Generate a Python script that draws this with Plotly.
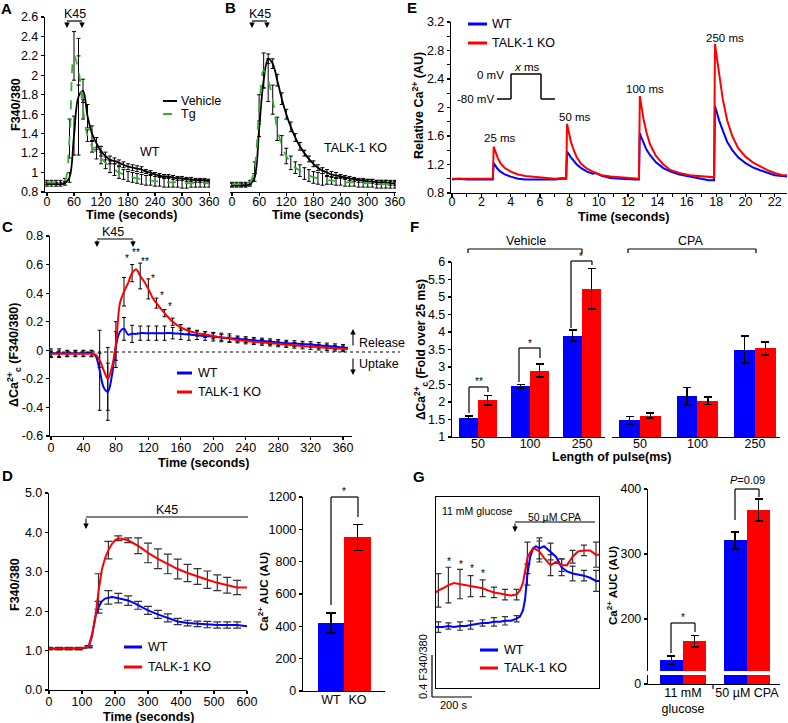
import plotly.graph_objects as go

W, H = 788, 723
FONT = "Liberation Sans, Arial, Helvetica, sans-serif"
BLUE, RED, GREEN = "#0000FF", "#FF0000", "#33B233"

# ---------------- data ----------------
# Panels A / B (F340/380 vs time, s)
TIME_AB = [0, 10, 20, 30, 40, 50, 60, 70, 80, 90, 100, 110, 120, 130, 140, 150, 160, 170, 180,
           190, 200, 210, 220, 230, 240, 250, 260, 270, 280, 290, 300, 310, 320, 330, 340, 350, 360]
A_VEH = [0.88, 0.88, 0.88, 0.88, 0.89, 0.95, 1.38, 1.78, 1.84, 1.58, 1.40, 1.30, 1.22, 1.17, 1.13, 1.12,
         1.10, 1.08, 1.06, 1.05, 1.04, 1.03, 1.01, 1.00, 0.98, 0.97, 0.96, 0.96, 0.95, 0.94, 0.94, 0.93,
         0.93, 0.92, 0.92, 0.92, 0.91]
A_VEH_ERR = [0.02, 0.02, 0.02, 0.02, 0.02, 0.05, 0.20, 0.60, 0.12, 0.12, 0.08, 0.06, 0.05, 0.04, 0.04,
             0.03, 0.03, 0.03, 0.03, 0.03, 0.03, 0.03, 0.02, 0.02, 0.02, 0.02, 0.02, 0.02, 0.02, 0.02,
             0.02, 0.02, 0.02, 0.02, 0.02, 0.02, 0.02]
A_TG = [0.90, 0.90, 0.90, 0.90, 0.92, 1.35, 2.20, 2.05, 1.65, 1.38, 1.27, 1.20, 1.15, 1.10, 1.06, 1.03,
        1.00, 0.98, 0.96, 0.95, 0.94, 0.93, 0.92, 0.92, 0.91, 0.91, 0.90, 0.90, 0.90, 0.90, 0.89, 0.89,
        0.89, 0.89, 0.89, 0.89, 0.89]
A_TG_ERR = [0.02, 0.02, 0.02, 0.02, 0.02, 0.20, 0.25, 0.15, 0.10, 0.06, 0.06, 0.06, 0.06, 0.06, 0.06,
            0.06, 0.06, 0.05, 0.05, 0.05, 0.05, 0.05, 0.05, 0.05, 0.05, 0.05, 0.05, 0.05, 0.05, 0.05,
            0.05, 0.05, 0.04, 0.04, 0.04, 0.04, 0.04]
B_VEH = [0.87, 0.87, 0.87, 0.87, 0.88, 0.95, 1.45, 1.95, 2.17, 2.12, 1.95, 1.76, 1.60, 1.47, 1.36, 1.27,
         1.20, 1.14, 1.09, 1.05, 1.02, 1.00, 0.98, 0.97, 0.96, 0.95, 0.94, 0.93, 0.92, 0.92, 0.91, 0.91,
         0.90, 0.90, 0.90, 0.89, 0.89]
B_VEH_ERR = [0.02, 0.02, 0.02, 0.02, 0.02, 0.04, 0.08, 0.08, 0.05, 0.05, 0.06, 0.06, 0.05, 0.05, 0.04,
             0.04, 0.03, 0.03, 0.03, 0.03, 0.03, 0.03, 0.03, 0.03, 0.02, 0.02, 0.02, 0.02, 0.02, 0.02,
             0.02, 0.02, 0.02, 0.02, 0.02, 0.02, 0.02]
B_TG = [0.88, 0.88, 0.88, 0.88, 0.90, 1.05, 1.65, 2.05, 1.95, 1.75, 1.45, 1.28, 1.17, 1.10, 1.05, 1.02,
        0.99, 0.97, 0.95, 0.94, 0.93, 0.92, 0.92, 0.91, 0.91, 0.90, 0.90, 0.90, 0.89, 0.89, 0.89, 0.89,
        0.88, 0.88, 0.88, 0.88, 0.88]
B_TG_ERR = [0.02, 0.02, 0.02, 0.02, 0.02, 0.06, 0.15, 0.18, 0.22, 0.15, 0.12, 0.10, 0.08, 0.07, 0.06,
            0.06, 0.06, 0.06, 0.06, 0.06, 0.06, 0.04, 0.04, 0.04, 0.04, 0.04, 0.04, 0.04, 0.04, 0.04,
            0.04, 0.04, 0.04, 0.04, 0.04, 0.04, 0.04]

# Panel C (delta Ca2+c)
C_TIME = [0, 10, 20, 30, 40, 50, 55, 60, 65, 70, 75, 80, 85, 90, 95, 100, 105, 110, 115, 120, 125, 130,
          140, 150, 160, 170, 180, 190, 200, 210, 220, 230, 240, 250, 260, 270, 280, 290, 300, 310, 320,
          330, 340, 350, 360, 366]
C_WT = [-0.02, -0.02, -0.02, -0.02, -0.02, -0.02,
        -0.04, -0.14, -0.26, -0.29, -0.18, 0.03, 0.13, 0.15, 0.11, 0.115, 0.115, 0.12, 0.12, 0.12, 0.12, 0.12,
        0.12, 0.12, 0.115, 0.11, 0.105, 0.10, 0.095, 0.09, 0.085, 0.08, 0.075, 0.07, 0.065, 0.06, 0.055,
        0.05, 0.047, 0.043, 0.04, 0.035, 0.03, 0.025, 0.02,
        0.018]
C_KO = [-0.025, -0.025, -0.025, -0.025, -0.025, -0.025,
        -0.03, -0.07, -0.14, -0.20, -0.12, 0.04, 0.33, 0.41, 0.47, 0.54, 0.565, 0.52, 0.48, 0.43, 0.37, 0.33,
        0.26, 0.20, 0.16, 0.135, 0.12, 0.11, 0.10, 0.09, 0.08, 0.072, 0.065, 0.06, 0.055, 0.05, 0.045,
        0.04, 0.035, 0.03, 0.026, 0.022, 0.018, 0.014, 0.01,
        0.008]
C_ERR_TIME = [0, 10, 20, 30, 40, 50, 60, 70, 80, 90, 100, 110, 120, 130, 140, 150, 160, 170, 180, 190,
              200, 210, 220, 230, 240, 250, 260, 270, 280, 290, 300, 310, 320, 330, 340, 350, 360]
C_WT_ERR = [0.03, 0.03, 0.02, 0.02, 0.02, 0.02, 0.28, 0.20, 0.10, 0.08, 0.06, 0.05, 0.05, 0.05, 0.05,
            0.04, 0.04, 0.04, 0.03, 0.03, 0.03, 0.03, 0.03, 0.02, 0.02, 0.02, 0.02, 0.02, 0.02, 0.02,
            0.02, 0.02, 0.02, 0.02, 0.02, 0.02, 0.02]
C_KO_ERR = [0.02, 0.02, 0.02, 0.02, 0.02, 0.02, 0.05, 0.22, 0.16, 0.10, 0.06, 0.09, 0.07, 0.035, 0.025,
            0.025, 0.02, 0.02, 0.02, 0.02, 0.02, 0.02, 0.02, 0.02, 0.02, 0.02, 0.02, 0.02, 0.02, 0.02,
            0.02, 0.02, 0.02, 0.02, 0.02, 0.02, 0.02]

# Panel D left
D_TIME = [0, 30, 60, 90, 100, 110, 120, 130, 140, 150, 160, 170, 180, 190, 200, 210, 220, 240, 260, 270,
          280, 300, 330, 360, 390, 420, 450, 480, 510, 540, 570, 600]
D_WT = [1.05, 1.05, 1.05, 1.05, 1.06, 1.07, 1.10, 1.35, 1.85, 2.10, 2.25, 2.32, 2.35, 2.36, 2.35, 2.33,
        2.32, 2.27, 2.20, 2.15, 2.10, 2.02, 1.92, 1.83, 1.74, 1.70, 1.68, 1.66, 1.65, 1.65, 1.65, 1.62]
D_KO = [1.05, 1.05, 1.05, 1.05, 1.06, 1.08, 1.10, 1.40, 1.80, 2.50, 3.05, 3.35, 3.55, 3.70, 3.80, 3.85,
        3.84, 3.80, 3.72, 3.66, 3.60, 3.48, 3.33, 3.20, 3.07, 2.97, 2.88, 2.80, 2.72, 2.66, 2.60, 2.60]
D_ERR_TIME = [0, 30, 60, 90, 120, 150, 180, 210, 240, 270, 300, 330, 360, 390, 420, 450, 480, 510, 540, 570]
D_WT_ERR = [0.02, 0.02, 0.02, 0.02, 0.02, 0.15, 0.17, 0.12, 0.12, 0.10, 0.10, 0.10, 0.10, 0.08, 0.07,
            0.07, 0.08, 0.08, 0.08, 0.08]
D_KO_ERR = [0.03, 0.03, 0.03, 0.03, 0.03, 0.45, 0.22, 0.06, 0.06, 0.20, 0.25, 0.25, 0.25, 0.25, 0.22,
            0.20, 0.22, 0.20, 0.20, 0.18]

# Panel D right
D_GROUPS = ["WT", "KO"]
D_AUC = [420, 950]
D_AUC_ERR = [62, 80]

# Panel E (relative Ca2+ vs time, s)
E_TIME = [0.0, 0.5, 1.0, 1.5, 2.0, 2.5, 2.78, 2.84, 2.95, 3.1, 3.3, 3.6, 4.0, 4.5, 5.0, 5.5, 6.0, 6.5,
          7.0, 7.5, 7.78, 7.84, 7.95, 8.1, 8.3, 8.5, 8.8, 9.2, 9.6, 9.8, 10.2, 10.8, 11.5, 12.0, 12.5,
          12.74, 12.80, 12.9, 13.05, 13.25, 13.5, 13.9, 14.4, 14.9, 15.5, 16.2, 16.9, 17.5, 17.86, 17.92,
          18.02, 18.2, 18.45, 18.75, 19.1, 19.5, 20.0, 20.5, 21.0, 21.5, 22.0, 22.5, 22.9]
E_WT = [0.99, 1.00, 0.99, 0.99, 1.00, 0.99, 0.99, 1.22, 1.18, 1.14, 1.10, 1.06, 1.03, 1.00, 0.99, 0.99,
        0.98, 0.99, 0.99, 1.00, 1.00, 1.38, 1.34, 1.30, 1.25, 1.20, 1.15, 1.10, 1.07, 1.08, 1.04, 1.01,
        1.00, 0.99, 0.99, 0.99, 1.64, 1.58, 1.50, 1.41, 1.33, 1.23, 1.15, 1.10, 1.06, 1.03, 1.00, 0.98,
        0.98, 2.02, 1.95, 1.82, 1.68, 1.52, 1.40, 1.30, 1.22, 1.16, 1.12, 1.08, 1.05, 1.04, 1.03]
E_KO = [1.00, 1.00, 0.99, 1.00, 0.99, 1.00, 1.00, 1.45, 1.38, 1.30, 1.22, 1.15, 1.10, 1.06, 1.04, 1.03,
        1.01, 1.01, 1.00, 1.01, 1.01, 1.77, 1.68, 1.52, 1.40, 1.30, 1.21, 1.14, 1.10, 1.08, 1.05, 1.03,
        1.02, 1.01, 1.00, 1.00, 2.16, 2.02, 1.84, 1.65, 1.48, 1.32, 1.20, 1.12, 1.08, 1.05, 1.04, 1.03,
        1.02, 2.89, 2.75, 2.45, 2.12, 1.82, 1.60, 1.43, 1.31, 1.23, 1.17, 1.12, 1.08, 1.05, 1.05]

# Panel F (fold over 25 ms)
F_PULSE = ["50", "100", "250"]
F_VEH_WT = [1.55, 2.45, 3.90]
F_VEH_WT_ERR = [0.05, 0.05, 0.16]
F_VEH_KO = [2.05, 2.90, 5.24]
F_VEH_KO_ERR = [0.14, 0.19, 0.58]
F_CPA_WT = [1.48, 2.16, 3.50]
F_CPA_WT_ERR = [0.11, 0.25, 0.38]
F_CPA_KO = [1.61, 2.04, 3.53]
F_CPA_KO_ERR = [0.07, 0.11, 0.18]

# Panel G left (trace, arbitrary F340/380 offset)
G_TIME = [0, 12, 35, 62, 90, 120, 150, 173, 200, 233, 260, 290, 320, 345, 375, 403, 420, 435, 445, 457,
          470, 485, 500, 517, 540, 573, 600, 628, 655, 683, 710, 740, 770, 800, 815]
G_WT = [1.00, 1.00, 1.00, 1.01, 1.00, 1.01, 1.01, 1.02, 1.03, 1.04, 1.04, 1.05, 1.05, 1.06, 1.06, 1.08,
        1.10, 1.16, 1.26, 1.50, 1.66, 1.75, 1.77, 1.75, 1.77, 1.72, 1.67, 1.57, 1.53, 1.51, 1.50, 1.49,
        1.47, 1.44, 1.44]
G_KO = [1.33, 1.35, 1.37, 1.40, 1.42, 1.41, 1.40, 1.39, 1.38, 1.37, 1.35, 1.33, 1.32, 1.31, 1.30, 1.31,
        1.35, 1.42, 1.52, 1.66, 1.71, 1.75, 1.74, 1.72, 1.66, 1.59, 1.62, 1.59, 1.59, 1.67, 1.72, 1.73,
        1.73, 1.69, 1.69]
G_ERR_TIME = [12, 62, 120, 173, 233, 290, 345, 403, 457, 517, 573, 628, 683, 740, 800]
G_WT_ERR = [0.05, 0.03, 0.04, 0.04, 0.03, 0.04, 0.04, 0.03, 0.10, 0.10, 0.08, 0.08, 0.07, 0.05, 0.10]
G_KO_ERR = [0.16, 0.17, 0.14, 0.10, 0.08, 0.05, 0.05, 0.05, 0.15, 0.10, 0.10, 0.06, 0.06, 0.05, 0.12]

# Panel G right (Ca2+ AUC)
G_COND = ["11 mM<br>glucose", "50 \u00b5M CPA"]
G_AUC_WT = [137, 321]
G_AUC_WT_ERR = [6, 13]
G_AUC_KO = [166, 368]
G_AUC_KO_ERR = [9, 17]


# ---------------- helpers ----------------
def px(x):
    return x / W


def py(y):
    return 1 - y / H


def xd(a, b):
    return [a / W, b / W]


def yd(top, bottom):
    return [1 - bottom / H, 1 - top / H]


def pick(times, vals, sel):
    m = dict(zip(times, vals))
    return [m[t] for t in sel]


shapes, annos = [], []


def L(x0, y0, x1, y1, w=1.2, color="black", dash=None):
    shapes.append(dict(type="line", xref="paper", yref="paper", x0=px(x0), y0=py(y0), x1=px(x1),
                       y1=py(y1), line=dict(color=color, width=w, dash=dash)))


def T(x, y, text, size=12.5, xanchor="center", yanchor="middle", angle=0):
    annos.append(dict(xref="paper", yref="paper", x=px(x), y=py(y), text=text, showarrow=False,
                      font=dict(family=FONT, size=size, color="black"), xanchor=xanchor,
                      yanchor=yanchor, textangle=angle))


def ARROW(x, y_tail, y_tip):
    annos.append(dict(xref="paper", yref="paper", x=px(x), y=py(y_tip), ax=0, ay=(y_tail - y_tip),
                      axref="pixel", ayref="pixel", text="", showarrow=True, arrowhead=2,
                      arrowsize=1, arrowwidth=1.1, arrowcolor="black"))


def base(**kw):
    d = dict(showline=True, linecolor="black", linewidth=1.2, ticks="outside", ticklen=3,
             tickwidth=1.2, tickcolor="black", showgrid=False, zeroline=False, automargin=False,
             tickfont=dict(family=FONT, size=12.5, color="black"), fixedrange=True)
    d.update(kw)
    return d


def hidden(**kw):
    d = dict(visible=False, showgrid=False, zeroline=False, fixedrange=True, automargin=False)
    d.update(kw)
    return d


def err(arr, color="black", thick=1.0, width=2):
    return dict(type="data", array=arr, color=color, thickness=thick, width=width, visible=True)


INVIS = dict(color="rgba(0,0,0,0)", size=1)
fig = go.Figure()

# ---------------- A ----------------
fig.add_trace(go.Scatter(x=TIME_AB, y=A_VEH, mode="lines", line=dict(color="black", width=1.8, shape="spline"),
                         error_y=err(A_VEH_ERR), xaxis="x", yaxis="y"))
fig.add_trace(go.Scatter(x=TIME_AB, y=A_TG, mode="lines",
                         line=dict(color=GREEN, width=1.8, dash="dash", shape="spline"),
                         error_y=err(A_TG_ERR), xaxis="x", yaxis="y"))
# ---------------- B ----------------
fig.add_trace(go.Scatter(x=TIME_AB, y=B_VEH, mode="lines", line=dict(color="black", width=1.8, shape="spline"),
                         error_y=err(B_VEH_ERR), xaxis="x2", yaxis="y2"))
fig.add_trace(go.Scatter(x=TIME_AB, y=B_TG, mode="lines",
                         line=dict(color=GREEN, width=1.8, dash="dash", shape="spline"),
                         error_y=err(B_TG_ERR), xaxis="x2", yaxis="y2"))
# ---------------- E ----------------
fig.add_trace(go.Scatter(x=E_TIME, y=E_WT, mode="lines", line=dict(color=BLUE, width=2), xaxis="x3", yaxis="y3"))
fig.add_trace(go.Scatter(x=E_TIME, y=E_KO, mode="lines", line=dict(color=RED, width=2), xaxis="x3", yaxis="y3"))
# ---------------- C ----------------
fig.add_trace(go.Scatter(x=C_ERR_TIME, y=pick(C_TIME, C_WT, C_ERR_TIME), mode="markers", marker=INVIS,
                         error_y=err(C_WT_ERR), xaxis="x4", yaxis="y4"))
fig.add_trace(go.Scatter(x=C_ERR_TIME, y=pick(C_TIME, C_KO, C_ERR_TIME), mode="markers", marker=INVIS,
                         error_y=err(C_KO_ERR), xaxis="x4", yaxis="y4"))
fig.add_trace(go.Scatter(x=C_TIME, y=C_WT, mode="lines", line=dict(color=BLUE, width=2, shape="spline"),
                         xaxis="x4", yaxis="y4"))
fig.add_trace(go.Scatter(x=C_TIME, y=C_KO, mode="lines", line=dict(color=RED, width=2, shape="spline"),
                         xaxis="x4", yaxis="y4"))
# ---------------- F ----------------
BW = 0.365
fig.add_trace(go.Bar(x=F_PULSE, y=F_VEH_WT, offset=-BW, width=BW, marker=dict(color=BLUE, line=dict(width=0)),
                     error_y=err(F_VEH_WT_ERR, thick=1.5, width=4), xaxis="x5", yaxis="y5"))
fig.add_trace(go.Bar(x=F_PULSE, y=F_VEH_KO, offset=0, width=BW, marker=dict(color=RED, line=dict(width=0)),
                     error_y=err(F_VEH_KO_ERR, thick=1.5, width=4), xaxis="x5", yaxis="y5"))
fig.add_trace(go.Bar(x=F_PULSE, y=F_CPA_WT, offset=-0.36, width=0.36, marker=dict(color=BLUE, line=dict(width=0)),
                     error_y=err(F_CPA_WT_ERR, thick=1.5, width=4), xaxis="x6", yaxis="y6"))
fig.add_trace(go.Bar(x=F_PULSE, y=F_CPA_KO, offset=0, width=0.36, marker=dict(color=RED, line=dict(width=0)),
                     error_y=err(F_CPA_KO_ERR, thick=1.5, width=4), xaxis="x6", yaxis="y6"))
# ---------------- D left ----------------
fig.add_trace(go.Scatter(x=D_ERR_TIME, y=pick(D_TIME, D_WT, D_ERR_TIME), mode="markers", marker=INVIS,
                         error_y=err(D_WT_ERR, color="#333333", thick=1.2, width=4), xaxis="x7", yaxis="y7"))
fig.add_trace(go.Scatter(x=D_ERR_TIME, y=pick(D_TIME, D_KO, D_ERR_TIME), mode="markers", marker=INVIS,
                         error_y=err(D_KO_ERR, color="#333333", thick=1.2, width=4), xaxis="x7", yaxis="y7"))
fig.add_trace(go.Scatter(x=D_TIME, y=D_WT, mode="lines", line=dict(color=BLUE, width=2), xaxis="x7", yaxis="y7"))
fig.add_trace(go.Scatter(x=D_TIME, y=D_KO, mode="lines", line=dict(color=RED, width=2), xaxis="x7", yaxis="y7"))
# ---------------- D right ----------------
fig.add_trace(go.Bar(x=[0, 1], y=D_AUC, width=1, marker=dict(color=[BLUE, RED], line=dict(width=0)),
                     error_y=err(D_AUC_ERR, thick=1.5, width=5), xaxis="x8", yaxis="y8"))
# ---------------- G left ----------------
fig.add_trace(go.Scatter(x=G_ERR_TIME, y=pick(G_TIME, G_WT, G_ERR_TIME), mode="markers", marker=INVIS,
                         error_y=err(G_WT_ERR, color="#333333", thick=1.2, width=3), xaxis="x9", yaxis="y9"))
fig.add_trace(go.Scatter(x=G_ERR_TIME, y=pick(G_TIME, G_KO, G_ERR_TIME), mode="markers", marker=INVIS,
                         error_y=err(G_KO_ERR, color="#333333", thick=1.2, width=3), xaxis="x9", yaxis="y9"))
fig.add_trace(go.Scatter(x=G_TIME, y=G_WT, mode="lines", line=dict(color=BLUE, width=2), xaxis="x9", yaxis="y9"))
fig.add_trace(go.Scatter(x=G_TIME, y=G_KO, mode="lines", line=dict(color=RED, width=2), xaxis="x9", yaxis="y9"))
# ---------------- G right (broken axis) ----------------
GW = 0.367
for ya, xa, e in (("y10", "x10", True), ("y11", "x11", False)):
    fig.add_trace(go.Bar(x=[0, 1], y=G_AUC_WT, offset=-GW, width=GW, marker=dict(color=BLUE, line=dict(width=0)),
                         error_y=err(G_AUC_WT_ERR, thick=1.5, width=4) if e else None, xaxis=xa, yaxis=ya))
    fig.add_trace(go.Bar(x=[0, 1], y=G_AUC_KO, offset=0, width=GW, marker=dict(color=RED, line=dict(width=0)),
                         error_y=err(G_AUC_KO_ERR, thick=1.5, width=4) if e else None, xaxis=xa, yaxis=ya))

# ---------------- axes ----------------
ab_ticks = [0.8, 1.0, 1.2, 1.4, 1.6, 1.8, 2.0, 2.2, 2.4, 2.6]
ab_text = ["0.8", "1", "1.2", "1.4", "1.6", "1.8", "2", "2.2", "2.4", "2.6"]
lay = dict(
    xaxis=base(domain=xd(45, 210), range=[-4.4, 362], tickvals=[0, 60, 120, 180, 240, 300, 360], anchor="y",
               ticklabelstandoff=-5),
    yaxis=base(domain=yd(17, 192), range=[0.8, 2.6], tickvals=ab_ticks, ticktext=ab_text, anchor="x"),
    xaxis2=base(domain=xd(230, 396), range=[-4.4, 362.5], tickvals=[0, 60, 120, 180, 240, 300, 360], anchor="y2",
                ticklabelstandoff=-5),
    yaxis2=hidden(domain=yd(17, 192), range=[0.8, 2.6], anchor="x2"),
    xaxis3=base(domain=xd(451, 787), range=[-0.07, 22.83], tickvals=list(range(0, 23, 2)), anchor="y3",
                ticklabelstandoff=-6,
                minor=dict(dtick=1, ticks="outside", ticklen=2.5, tickcolor="black", tickwidth=1)),
    yaxis3=base(domain=yd(22, 193), range=[0.8, 3.2], tickvals=[0.8, 1.2, 1.6, 2.0, 2.4, 2.8, 3.2],
                ticktext=["0.8", "1.2", "1.6", "2", "2.4", "2.8", "3.2"], anchor="x3",
                minor=dict(dtick=0.2, ticks="outside", ticklen=2.5, tickcolor="black", tickwidth=1)),
    xaxis4=base(domain=xd(50, 352), range=[-1.2, 371], tickvals=[0, 40, 80, 120, 160, 200, 240, 280, 320, 360],
                anchor="y4", ticklabelstandoff=-3),
    yaxis4=base(domain=yd(236, 436), range=[-0.6, 0.8], tickvals=[-0.6, -0.4, -0.2, 0, 0.2, 0.4, 0.6, 0.8],
                ticktext=["-0.6", "-0.4", "-0.2", "0", "0.2", "0.4", "0.6", "0.8"], anchor="x4"),
    xaxis5=base(domain=xd(452, 605), type="category", range=[-0.5, 2.44], ticks="", anchor="y5",
                ticklabelstandoff=-5),
    yaxis5=base(domain=yd(262, 437), range=[1, 6], tickvals=[1, 1.5, 2, 2.5, 3, 3.5, 4, 4.5, 5, 5.5, 6],
                ticktext=["1", "1.5", "2", "2.5", "3", "3.5", "4", "4.5", "5", "5.5", "6"], anchor="x5"),
    xaxis6=base(domain=xd(612, 780), type="category", range=[-0.487, 2.435], ticks="", anchor="y6",
                ticklabelstandoff=-5),
    yaxis6=hidden(domain=yd(262, 437), range=[1, 6], anchor="x6"),
    xaxis7=base(domain=xd(49, 247), range=[0, 600], tickvals=[0, 100, 200, 300, 400, 500, 600], anchor="y7",
                ticklabelstandoff=-3),
    yaxis7=base(domain=yd(493, 690), range=[0, 5], tickvals=[0, 1, 2, 3, 4, 5], tickformat=".1f", anchor="x7"),
    xaxis8=base(domain=xd(303, 385), range=[-1.057, 2.037], tickvals=[0, 1], ticktext=D_GROUPS, ticks="",
                anchor="y8", ticklabelstandoff=-3),
    yaxis8=base(domain=yd(497, 691), range=[0, 1200], tickvals=[0, 200, 400, 600, 800, 1000, 1200], anchor="x8"),
    xaxis9=base(domain=xd(436, 599), range=[0, 815], ticks="", showticklabels=False, mirror=True, anchor="y9"),
    yaxis9=base(domain=yd(497, 688), range=[0.42, 2.239], ticks="", showticklabels=False, mirror=True, anchor="x9"),
    xaxis10=hidden(domain=xd(648, 780), range=[-0.547, 1.516], anchor="y10"),
    yaxis10=base(domain=yd(489, 671), range=[120, 400], tickvals=[200, 300, 400], anchor="x10"),
    xaxis11=base(domain=xd(648, 780), range=[-0.547, 1.516], tickvals=[0, 1], ticktext=G_COND, ticks="",
                 anchor="y11", ticklabelstandoff=-3),
    yaxis11=base(domain=yd(675, 684), range=[0, 14], tickvals=[0], anchor="x11"),
)

# ---------------- decorations ----------------
# panel letters
for lx, ly, s in ((6, 9, "A"), (230, 8, "B"), (412, 8, "E"), (8, 226, "C"), (414, 226, "F"),
                  (8, 475, "D"), (419, 476, "G")):
    T(lx, ly, "<b>%s</b>" % s, size=15)

# axis titles
T(16, 104, "<b>F340/380</b>", angle=-90)
T(131, 215, "<b>Time (seconds)</b>")
T(317, 215, "<b>Time (seconds)</b>")
T(418, 106, "<b>Relative Ca<sup>2+</sup> (AU)</b>", angle=-90)
T(623, 217, "<b>Time (seconds)</b>")
T(14, 355, "<b>\u0394Ca<sup>2+</sup><sub>c</sub> (F340/380)</b>", angle=-90)
T(203, 463, "<b>Time (seconds)</b>")
T(421, 350, "<b>\u0394Ca<sup>2+</sup><sub>c</sub> (Fold over 25 ms)</b>", size=12, angle=-90)
T(611, 457, "<b>Length of pulse(ms)</b>")
T(15, 585, "<b>F340/380</b>", angle=-90)
T(148, 717, "<b>Time (seconds)</b>")
T(263, 592, "<b>Ca<sup>2+</sup> AUC (AU)</b>", size=11.5, angle=-90)
T(612, 586, "<b>Ca<sup>2+</sup> AUC (AU)</b>", size=11.5, angle=-90)

# A / B: K45 brackets, legend, labels
for cx, x0, x1 in ((75, 67, 82), (260, 252, 267)):
    T(cx, 14, "K45", size=12.5)
    L(x0, 21, x1, 21)
    ARROW(x0, 21, 28)
    ARROW(x1, 21, 28)
L(163, 101, 177, 101, w=2)
T(179, 101, "Vehicle", xanchor="left")
L(163, 114, 177, 114, w=2, color=GREEN, dash="dash")
T(179, 114, "Tg", xanchor="left")
T(150, 152, "WT")
T(355, 148, "TALK-1 KO")

# E: legend, pulse protocol, labels
L(468, 24, 487, 24, w=3, color=BLUE)
T(490, 24, "WT", xanchor="left")
L(468, 43, 487, 43, w=3, color=RED)
T(490, 43, "TALK-1 KO", xanchor="left")
L(497, 99, 511, 99, w=1.5)
L(511, 99, 511, 74, w=1.5)
L(511, 74, 541, 74, w=1.5)
L(541, 74, 541, 99, w=1.5)
L(541, 99, 555, 99, w=1.5)
T(506, 75, "0 mV", size=11.5, xanchor="right")
T(496, 99, "-80 mV", size=11.5, xanchor="right")
T(527, 67, "<i>x</i> ms", size=11.5)
T(500, 138, "25 ms", size=11.5)
T(575, 117, "50 ms", size=11.5)
T(645, 89, "100 ms", size=11.5)
T(725, 38, "250 ms", size=11.5)

# C: K45, stars, legend, release/uptake, zero line
T(113, 232, "K45")
L(97, 239, 133, 239)
ARROW(97, 239, 247)
ARROW(133, 239, 247)
for sx, sy, s in ((127, 258, "*"), (136, 253, "**"), (145, 261, "**"), (153, 278, "*"), (162, 295, "*"),
                  (170, 306, "*")):
    T(sx, sy, s, size=10)
L(177, 373, 192, 373, w=3, color=BLUE)
T(196, 373, "WT", xanchor="left")
L(177, 392, 192, 392, w=3, color=RED)
T(196, 392, "TALK-1 KO", xanchor="left")
L(50, 352, 400, 352, w=1, dash="dot")
ARROW(353, 347, 329)
ARROW(353, 357, 375)
T(357, 343, "Release", xanchor="left")
T(357, 364, "Uptake", xanchor="left")

# F: group brackets and significance
T(526, 241, "Vehicle")
L(468, 249, 582, 249)
L(468, 249, 468, 253)
L(582, 249, 582, 253)
T(690, 241, "CPA")
L(628, 249, 756, 249)
L(628, 249, 628, 253)
L(756, 249, 756, 253)
for (lx, ly0, ytop, rx, ry1, sx, sy, s) in ((469, 413, 387, 488, 392, 479, 381, "**"),
                                            (519, 382, 348, 540, 358, 530, 343, "*"),
                                            (571, 328, 261, 592, 265, 581, 256, "*")):
    L(lx, ly0, lx, ytop)
    L(lx, ytop, rx, ytop)
    L(rx, ytop, rx, ry1)
    T(sx, sy, s, size=10)

# D: K45 arrow, legend, significance
L(86, 517, 248, 517)
ARROW(86, 517, 529)
T(167, 510, "K45")
L(124, 647, 142, 647, w=3, color=BLUE)
T(146, 647, "WT", xanchor="left")
L(124, 667, 142, 667, w=3, color=RED)
T(146, 667, "TALK-1 KO", xanchor="left")
L(331, 605, 331, 497)
L(331, 497, 358, 497)
L(358, 497, 358, 517)
T(344, 491, "*", size=10)

# G left: labels, stars, legend, scale bars
T(440, 511, "11 mM glucose", size=10.5, xanchor="left")
T(526, 517, "50 \u00b5M CPA", size=10.5, xanchor="left")
L(515, 522, 595, 522)
ARROW(515, 522, 532)
for sx, sy in ((449, 561), (461, 564), (472, 568), (483, 573)):
    T(sx, sy, "*", size=10)
L(480, 650, 498, 650, w=3, color=BLUE)
T(502, 650, "WT", xanchor="left")
L(480, 668, 498, 668, w=3, color=RED)
T(502, 668, "TALK-1 KO", xanchor="left")
L(432, 655, 432, 697)
L(432, 697, 472, 697)
T(423, 667, "0.4 F340/380", size=11, angle=-90)
T(453, 705, "200 s", size=11)

# G right: significance, separator tick
L(735, 520, 735, 489)
L(735, 489, 759, 489)
L(759, 489, 759, 497)
T(747, 480, "<i>P</i>=0.09", size=11)
L(671, 653, 671, 623)
L(671, 623, 695, 623)
L(695, 623, 695, 632)
T(683, 617, "*", size=10)
L(713, 684, 713, 689)

fig.update_layout(
    template="none",
    width=W, height=H, margin=dict(l=0, r=0, t=0, b=0, pad=0, autoexpand=False),
    paper_bgcolor="white", plot_bgcolor="white",
    showlegend=False, bargap=0, font=dict(family=FONT, color="black"),
    shapes=shapes, annotations=annos, **lay,
)
fig.write_html("out.html", config={"displayModeBar": False, "staticPlot": True},
               post_script="document.body.style.margin='0px';document.body.style.padding='0px';"
                           "document.body.style.overflow='hidden';")
